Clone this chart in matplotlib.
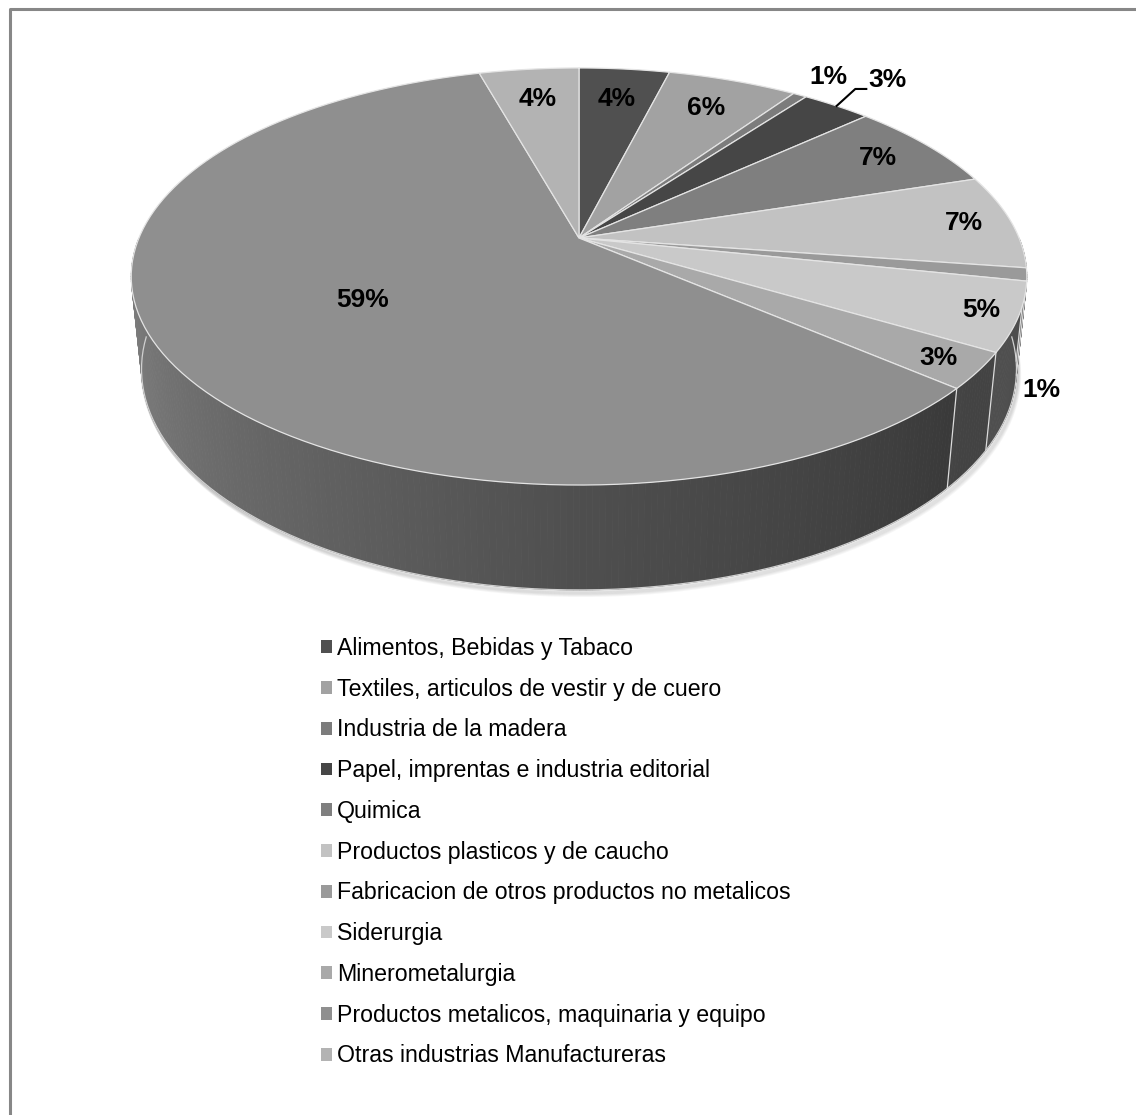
import numpy as np
import matplotlib.pyplot as plt
from matplotlib.patches import Polygon, Patch

plt.rcParams["font.family"] = ["Liberation Sans", "DejaVu Sans"]

# participación por sector (%), en sentido horario desde las 12
sectores = [
    "Alimentos, Bebidas y Tabaco",
    "Textiles, articulos de vestir y de cuero",
    "Industria de la madera",
    "Papel, imprentas e industria editorial",
    "Quimica",
    "Productos plasticos y de caucho",
    "Fabricacion de otros productos no metalicos",
    "Siderurgia",
    "Minerometalurgia",
    "Productos metalicos, maquinaria y equipo",
    "Otras industrias Manufactureras",
]
porcentajes = [3.9, 5.6, 0.6, 3.0, 6.9, 7.3, 1.0, 5.3, 2.8, 59.3, 4.3]
colores = ["#505050", "#a2a2a2", "#7c7c7c", "#464646", "#7f7f7f", "#c2c2c2",
           "#9a9a9a", "#c9c9c9", "#a9a9a9", "#8f8f8f", "#b3b3b3"]

# dónde va cada etiqueta: (radio, altura, tipo)
etiquetas_pos = [(0.8, 0, "in"), (0.8, 0, "in"), (1.15, 0, "out"), (1.23, 0, "leader"),
                 (0.85, 0, "in"), (0.89, 0, "in"), (1.06, -0.29, "out"), (0.92, 0, "in"),
                 (0.91, 0, "in"), (0.55, 0, "in"), (0.8, 0, "in")]

W, H = 1136, 1115
fig = plt.figure(figsize=(W / 100, H / 100), dpi=100)
ax = fig.add_axes([0, 0, 1, 1])
ax.set_xlim(0, W)
ax.set_ylim(H, 0)
ax.axis("off")

# marco del gráfico
ax.plot([10, 10, W + 5], [H + 5, 8.5, 8.5], color="#878787", lw=2.2, solid_capstyle="butt")

# cámara en perspectiva
ELEV = np.arcsin(0.4577)
DIST = 4.815
FOCAL = 2119.0
DEPTH = 0.239
CX, CY = 579.0, 238.0


def project(theta, r=1.0, z=0.0):
    X = r * np.cos(theta)
    Y = r * np.sin(theta)
    d = DIST + Y * np.cos(ELEV) - z * np.sin(ELEV)
    sx = FOCAL * X / d
    sy = FOCAL * (Y * np.sin(ELEV) + z * np.cos(ELEV)) / d
    return CX + sx, CY - sy


def shade(theta_deg):
    return np.interp(theta_deg, [-180, -160, -90, -40, 0], [0.93, 0.85, 0.55, 0.40, 0.38])


vals = np.array(porcentajes)
bounds = 90 - np.concatenate([[0], np.cumsum(vals)]) * 360 / vals.sum()

# sombra bajo el borde frontal
tb = np.radians(np.linspace(-178, -2, 200))
bx, by = project(tb, z=-DEPTH)
for k in range(1, 7):
    ax.plot(bx + k * 0.5, by + k * 0.9, color="black", alpha=0.035, lw=2.5, zorder=1)

# paredes laterales
for i, c in enumerate(colores):
    hi, lo = bounds[i], bounds[i + 1]
    a0, a1 = max(lo, -180), min(hi, 0)
    if a1 <= a0:
        continue
    base = np.array(plt.matplotlib.colors.to_rgb(c))
    edges = np.linspace(a0, a1, max(2, int((a1 - a0) / 0.7) + 2))
    for e0, e1 in zip(edges[:-1], edges[1:]):
        t = np.radians(np.linspace(e0, e1, 4))
        x0, y0 = project(t)
        x1, y1 = project(t[::-1], z=-DEPTH)
        col = np.clip(base * shade((e0 + e1) / 2), 0, 1)
        ax.add_patch(Polygon(np.column_stack([np.r_[x0, x1], np.r_[y0, y1]]),
                             closed=True, fc=col, ec=col, lw=0.6, zorder=2))

# líneas verticales entre sectores en la pared
for b in bounds[1:-1]:
    if -180 < b < 0:
        t = np.radians(b)
        xa, ya = project(t)
        xb, yb = project(t, z=-DEPTH)
        ax.plot([xa, xb], [ya, yb], color="#dcdcdc", lw=0.9, zorder=3)

# contorno inferior claro
ax.plot(bx, by, color="#d0d0d0", lw=0.9, zorder=3)

# cara superior
for i, c in enumerate(colores):
    t = np.radians(np.linspace(bounds[i], bounds[i + 1], 120))
    x, y = project(t)
    pts = np.column_stack([np.r_[CX, x], np.r_[CY, y]])
    ax.add_patch(Polygon(pts, closed=True, fc=c, ec="#e4e4e4", lw=0.9, zorder=4))

# etiquetas de porcentaje
for i, p in enumerate(porcentajes):
    r, z, kind = etiquetas_pos[i]
    mid = np.radians((bounds[i] + bounds[i + 1]) / 2)
    lx, ly = project(mid, r=r, z=z)
    ax.text(lx, ly, f"{p:.0f}%", ha="center", va="center", fontsize=19,
            fontweight="bold", color="black", zorder=6)
    if kind == "leader":
        ex, ey = project(mid)
        ax.plot([ex, lx - 32, lx - 21], [ey, ly + 9, ly + 9], color="black",
                lw=1.5, zorder=6)

# leyenda
handles = [Patch(facecolor=c, edgecolor="none") for c in colores]
fig.legend(handles, sectores, loc="upper left", bbox_to_anchor=(321 / W, 1 - 637 / H),
           frameon=False, fontsize=16.7, handlelength=0.48, handleheight=0.48,
           handletextpad=0.2, labelspacing=0.765, borderpad=0, borderaxespad=0)

fig.savefig("out.png", dpi=100, facecolor="white")
